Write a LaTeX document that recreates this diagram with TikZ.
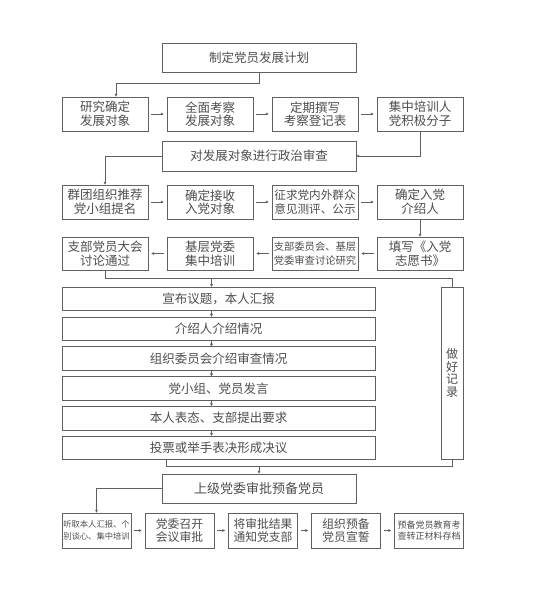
\documentclass[tikz,border=0pt]{standalone}
\usepackage{fontspec}
\setmainfont{Noto Sans CJK SC}
\usetikzlibrary{arrows.meta}
\definecolor{inkgray}{RGB}{78,78,78}
\definecolor{linegray}{RGB}{96,96,96}
\begin{document}
\begin{tikzpicture}[x=1pt,y=-1pt,
  box/.style={draw=linegray,line width=0.9pt,fill=white,text=inkgray,inner sep=0pt,outer sep=0pt,align=center,font=\fontsize{12.5}{13.6}\selectfont},
  arr/.style={draw=linegray,line width=0.8pt,-{Latex[length=3.2pt,width=3.2pt]}},
  lnk/.style={draw=linegray,line width=0.8pt},
  gap/.style={arr,shorten <=3pt,shorten >=3pt}]
\path[use as bounding box,fill=white] (0,0) rectangle (538,600);
\node[box,minimum width=194,minimum height=29] (plan) at (259,57.5) {制定党员发展计划};
\node[box,minimum width=86,minimum height=34] (r1a) at (105,114) {研究确定\\发展对象};
\node[box,minimum width=86,minimum height=34] (r1b) at (210,114) {全面考察\\发展对象};
\node[box,minimum width=86,minimum height=34] (r1c) at (315,114) {定期撰写\\考察登记表};
\node[box,minimum width=86,minimum height=34] (r1d) at (420,114) {集中培训人\\党积极分子};
\node[box,minimum width=194,minimum height=30] (review) at (259,156) {对发展对象进行政治审查};
\node[box,minimum width=86,minimum height=34] (r3a) at (105,202) {群团组织推荐\\党小组提名};
\node[box,minimum width=86,minimum height=34] (r3b) at (210,202) {确定接收\\入党对象};
\node[box,minimum width=86,minimum height=34,font=\fontsize{11.6}{13.6}\selectfont] (r3c) at (315,202) {征求党内外群众\\意见测评、公示};
\node[box,minimum width=86,minimum height=34] (r3d) at (420,202) {确定入党\\介绍人};
\node[box,minimum width=86,minimum height=33] (r4a) at (105,253.5) {支部党员大会\\讨论通过};
\node[box,minimum width=86,minimum height=33] (r4b) at (210,253.5) {基层党委\\集中培训};
\node[box,minimum width=86,minimum height=33,font=\fontsize{10.3}{13.2}\selectfont] (r4c) at (315,253.5) {支部委员会、基层\\党委审查讨论研究};
\node[box,minimum width=86,minimum height=33] (r4d) at (420,253.5) {填写《入党\\志愿书》};
\foreach \i/\txt in {1/{宣布议题，本人汇报},2/{介绍人介绍情况},3/{组织委员会介绍审查情况},4/{党小组、党员发言},5/{本人表态、支部提出要求},6/{投票或举手表决形成决议}}
  \node[box,minimum width=313,minimum height=23.5] (list\i) at (218.5,{299+29.8*(\i-1)}) {\txt};
\node[box,minimum width=22,minimum height=172,font=\fontsize{12}{12.6}\selectfont] (record) at (452,373) {做\\好\\记\\录};
\node[box,minimum width=194,minimum height=29,font=\fontsize{13}{14}\selectfont] (approve) at (259,488.5) {上级党委审批预备党员};
\node[box,minimum width=69,minimum height=35,font=\fontsize{8.3}{11.5}\selectfont] (b1) at (96.5,530.5) {听取本人汇报、个\\别谈心、集中培训};
\node[box,minimum width=69,minimum height=35,font=\fontsize{11.8}{13.6}\selectfont] (b2) at (179.5,530.5) {党委召开\\会议审批};
\node[box,minimum width=69,minimum height=35,font=\fontsize{11.8}{13.6}\selectfont] (b3) at (263,530.5) {将审批结果\\通知党支部};
\node[box,minimum width=69,minimum height=35,font=\fontsize{11.8}{13.6}\selectfont] (b4) at (346,530.5) {组织预备\\党员宣誓};
\node[box,minimum width=69,minimum height=35,font=\fontsize{9}{11.5}\selectfont] (b5) at (429,530.5) {预备党员教育考\\查转正材料存档};
\draw[arr] (plan.south) -- ++(0,11) -| ([xshift=11pt]r1a.north);
\draw[gap] (r1a) -- (r1b);
\draw[gap] (r1b) -- (r1c);
\draw[gap] (r1c) -- (r1d);
\draw[arr] (r1d.south) |- (review.east);
\draw[arr] (review.west) -| (r3a.north);
\draw[gap] (r3a) -- (r3b);
\draw[gap] (r3b) -- (r3c);
\draw[gap] (r3c) -- (r3d);
\draw[arr] (r3d) -- (r4d);
\draw[gap] (r4d) -- (r4c);
\draw[gap] (r4c) -- (r4b);
\draw[gap] (r4b) -- (r4a);
\coordinate (split) at ([yshift=-8pt]r4a.south);
\draw[lnk] (r4a.south) -- (split) -| (record.north);
\coordinate (gate) at ([xshift=-7pt]list1.north);
\draw[arr] (gate |- split) -- (gate);
\foreach \i [evaluate=\i as \j using int(\i+1)] in {1,...,5}
  \draw[arr] ([xshift=-7pt]list\i.south) -- ([xshift=-7pt]list\j.north);
\coordinate (merge) at ([xshift=-52.5pt,yshift=-7pt]list6.south);
\draw[lnk] ([xshift=-52.5pt]list6.south) -- (merge) -| (record.south);
\draw[arr] (approve.north |- merge) -- (approve.north);
\draw[arr] (approve.west) -| (b1.north);
\draw[gap] (b1) -- (b2);
\draw[gap] (b2) -- (b3);
\draw[gap] (b3) -- (b4);
\draw[gap] (b4) -- (b5);
\end{tikzpicture}
\end{document}
